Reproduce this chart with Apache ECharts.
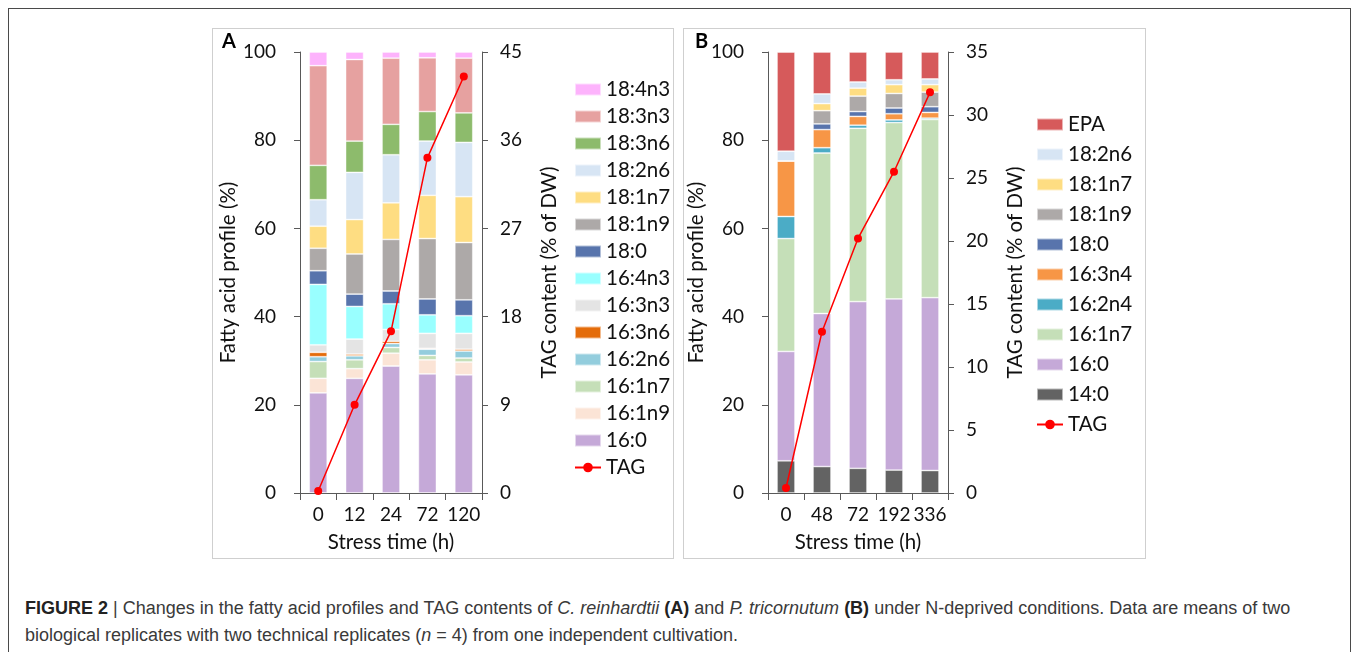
<!DOCTYPE html>
<html>
<head>
<meta charset="utf-8">
<script src="https://cdn.jsdelivr.net/npm/echarts@6/dist/echarts.min.js"></script>
<style>
  html, body { margin: 0; padding: 0; background: #fff; }
  body { width: 1357px; height: 652px; position: relative; overflow: hidden; }
  #frame { position: absolute; left: 8px; top: 8px; width: 1343px; height: 700px;
           border: 1px solid #4a4a4a; box-sizing: border-box; }
  .panel { position: absolute; top: 28px; height: 531px; border: 1px solid #cfcfcf; box-sizing: border-box; }
  #panelA { left: 212px; width: 462px; }
  #panelB { left: 683px; width: 463px; }
  #caption { position: absolute; left: 25px; top: 595px; width: 1320px;
             font-family: "Liberation Sans", Arial, sans-serif; font-size: 18px; line-height: 27px; color: #3a3a3a; }
  #caption b { color: #222; }
</style>
</head>
<body>
<div id="frame"></div>
<div id="panelA" class="panel"></div>
<div id="panelB" class="panel"></div>
<div id="caption"><b>FIGURE 2</b> | Changes in the fatty acid profiles and TAG contents of <i>C. reinhardtii</i> <b>(A)</b> and <i>P. tricornutum</i> <b>(B)</b> under N-deprived conditions. Data are means of two<br>biological replicates with two technical replicates (<i>n</i> = 4) from one independent cultivation.</div>
<script>
// ---- Panel A: C. reinhardtii ----
const timesA = ['0', '12', '24', '72', '120'];
const A_16_0   = [22.7, 26.0, 28.8, 27.0, 26.8];
const A_16_1n9 = [3.3, 2.2, 2.9, 3.2, 2.9];
const A_16_1n7 = [3.8, 2.0, 1.3, 1.0, 0.9];
const A_16_2n6 = [1.1, 0.9, 0.9, 1.4, 1.6];
const A_16_3n6 = [1.0, 0.4, 0.5, 0.2, 0.4];
const A_16_3n3 = [1.7, 3.4, 2.7, 3.4, 3.6];
const A_16_4n3 = [13.7, 7.4, 5.8, 4.2, 4.0];
const A_18_0   = [3.1, 2.8, 2.9, 3.6, 3.6];
const A_18_1n9 = [5.1, 9.1, 11.7, 13.7, 13.0];
const A_18_1n7 = [5.0, 7.8, 8.3, 9.8, 10.4];
const A_18_2n6 = [6.0, 10.7, 10.9, 12.3, 12.3];
const A_18_3n6 = [7.8, 7.1, 6.9, 6.7, 6.7];
const A_18_3n3 = [22.6, 18.5, 15.0, 12.2, 12.4];
const A_18_4n3 = [3.1, 1.7, 1.4, 1.3, 1.4];
const A_TAG    = [0.2, 9.0, 16.5, 34.2, 42.5];
const A_leftTicks  = { min: 0, max: 100, step: 20 };
const A_rightTicks = { min: 0, max: 45, step: 9 };

// ---- Panel B: P. tricornutum ----
const timesB = ['0', '48', '72', '192', '336'];
const B_14_0   = [7.3, 6.0, 5.6, 5.2, 5.1];
const B_16_0   = [24.8, 34.7, 37.8, 38.8, 39.2];
const B_16_1n7 = [25.6, 36.4, 39.3, 40.0, 40.4];
const B_16_2n4 = [5.0, 1.2, 0.7, 0.6, 0.3];
const B_16_3n4 = [12.6, 4.1, 2.0, 1.4, 1.3];
const B_18_0   = [0, 1.3, 1.1, 1.3, 1.3];
const B_18_1n9 = [0, 3.0, 3.5, 3.3, 3.3];
const B_18_1n7 = [0, 1.6, 1.8, 2.0, 1.7];
const B_18_2n6 = [2.2, 2.2, 1.4, 1.1, 1.3];
const B_EPA    = [22.5, 9.5, 6.8, 6.3, 6.1];
const B_TAG    = [0.4, 12.8, 20.2, 25.5, 31.8];
const B_leftTicks  = { min: 0, max: 100, step: 20 };
const B_rightTicks = { min: 0, max: 35, step: 5 };

// stacking order, bottom to top
const stackA = [
  ['16:0', A_16_0], ['16:1n9', A_16_1n9], ['16:1n7', A_16_1n7], ['16:2n6', A_16_2n6],
  ['16:3n6', A_16_3n6], ['16:3n3', A_16_3n3], ['16:4n3', A_16_4n3], ['18:0', A_18_0],
  ['18:1n9', A_18_1n9], ['18:1n7', A_18_1n7], ['18:2n6', A_18_2n6], ['18:3n6', A_18_3n6],
  ['18:3n3', A_18_3n3], ['18:4n3', A_18_4n3]
];
const stackB = [
  ['14:0', B_14_0], ['16:0', B_16_0], ['16:1n7', B_16_1n7], ['16:2n4', B_16_2n4],
  ['16:3n4', B_16_3n4], ['18:0', B_18_0], ['18:1n9', B_18_1n9], ['18:1n7', B_18_1n7],
  ['18:2n6', B_18_2n6], ['EPA', B_EPA]
];

const colors = {
  '18:4n3': '#FDB3FC', '18:3n3': '#E6A1A0', '18:3n6': '#8DBB6C', '18:2n6': '#D7E5F4',
  '18:1n7': '#FEDD82', '18:1n9': '#ADA9A8', '18:0': '#5874AC', '16:4n3': '#99FFFF',
  '16:3n3': '#E4E4E4', '16:3n6': '#E46C0A', '16:2n6': '#93CDDD', '16:1n7': '#C5DFB8',
  '16:1n9': '#FBE4D6', '16:0': '#C5A9D8', 'EPA': '#D65A5B', '16:3n4': '#F79646',
  '16:2n4': '#4BACC6', '14:0': '#636363', 'TAG': '#FF0000'
};

const FONT = 'Lato';
const FS = 20.5;      // axis titles and legend
const FS_TICK = 19;   // tick labels
const TXT = '#111';
const AXC = '#595959';

function buildOption(cfg) {
  const series = cfg.stack.map(([name, vals]) => ({
    name: name, type: 'bar', stack: 'fa', barWidth: 18,
    itemStyle: { color: colors[name], borderColor: 'rgba(255,255,255,0.55)', borderWidth: 0.8 },
    data: vals
  }));
  series.push({
    name: 'TAG', type: 'line', yAxisIndex: 1, data: cfg.tag,
    symbol: 'circle', symbolSize: 8,
    lineStyle: { color: colors.TAG, width: 1.5 },
    itemStyle: { color: colors.TAG }, z: 5
  });
  const legendData = cfg.stack.map(s => ({ name: s[0], icon: 'rect' })).reverse();
  legendData.push({ name: 'TAG' });
  const yBase = {
    type: 'value', splitLine: { show: false },
    axisLine: { show: true, lineStyle: { color: AXC, width: 1 } },
    axisTick: { show: true, length: 6, lineStyle: { color: AXC } },
    nameLocation: 'middle', nameRotate: 90,
    nameTextStyle: { fontFamily: FONT, fontSize: FS, color: TXT }
  };
  return {
    animation: false,
    textStyle: { fontFamily: FONT },
    grid: { left: cfg.gridLeft, top: 23, width: cfg.gridWidth, height: 445 },
    legend: {
      orient: 'vertical', left: cfg.legendLeft, top: cfg.legendTop,
      itemWidth: 26, itemHeight: 12, itemGap: cfg.legendGap, data: legendData,
      textStyle: { fontFamily: FONT, fontSize: FS, color: TXT },
      selectedMode: false
    },
    xAxis: {
      type: 'category', data: cfg.times,
      axisLine: { lineStyle: { color: AXC } },
      axisTick: { show: true, length: 7, interval: 0, lineStyle: { color: AXC } },
      axisLabel: { margin: 12, fontSize: FS_TICK, color: TXT, fontFamily: FONT, interval: 0 },
      name: 'Stress time (h)', nameLocation: 'middle', nameGap: 39,
      nameTextStyle: { fontFamily: FONT, fontSize: FS, color: TXT }
    },
    yAxis: [
      Object.assign({}, yBase, {
        min: cfg.left.min, max: cfg.left.max, interval: cfg.left.step,
        name: 'Fatty acid profile (%)', nameGap: 61,
        axisLabel: { margin: 24, fontSize: FS_TICK, color: TXT, fontFamily: FONT }
      }),
      Object.assign({}, yBase, {
        position: 'right', min: cfg.right.min, max: cfg.right.max, interval: cfg.right.step,
        name: 'TAG content (% of DW)', nameGap: 57,
        axisLabel: { margin: 18, fontSize: FS_TICK, color: TXT, fontFamily: FONT }
      })
    ],
    graphic: [{
      type: 'text', left: cfg.tagX, top: 3,
      style: { text: cfg.letter, font: 'bold 20px ' + FONT, fill: '#000' }
    }],
    series: series
  };
}

const chartA = echarts.init(document.getElementById('panelA'), null, { renderer: 'canvas' });
chartA.setOption(buildOption({
  stack: stackA, tag: A_TAG, times: timesA, left: A_leftTicks, right: A_rightTicks,
  gridLeft: 87, gridWidth: 182, legendLeft: 356, legendTop: 45, legendGap: 6,
  letter: 'A', tagX: 9
}));

const chartB = echarts.init(document.getElementById('panelB'), null, { renderer: 'canvas' });
chartB.setOption(buildOption({
  stack: stackB, tag: B_TAG, times: timesB, left: B_leftTicks, right: B_rightTicks,
  gridLeft: 84, gridWidth: 180, legendLeft: 347, legendTop: 80, legendGap: 9,
  letter: 'B', tagX: 11
}));
</script>
</body>
</html>
